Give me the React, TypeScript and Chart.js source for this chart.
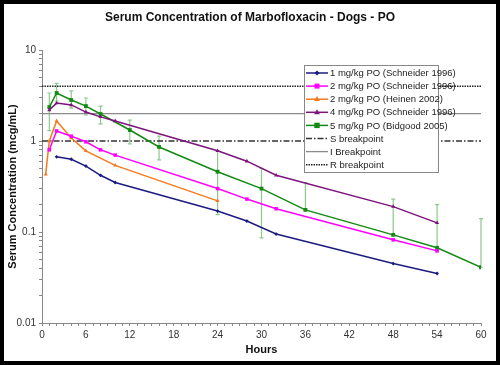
import { useEffect, useRef } from 'react';
import { Chart, registerables } from 'chart.js';
Chart.register(...registerables);

const chartTitle = 'Serum Concentration of Marbofloxacin - Dogs - PO';
const xTitle = 'Hours';
const yTitle = 'Serum Concentration (mcg/mL)';
const yMajorTicks = [0.01, 0.1, 1, 10];

const s1Label = '1 mg/kg PO (Schneider 1996)';
const s1Hours = [2, 4, 6, 8, 10, 24, 28, 32, 48, 54];
const s1Values = [0.67, 0.63, 0.53, 0.42, 0.35, 0.17, 0.132, 0.095, 0.045, 0.035];

const s2Label = '2 mg/kg PO (Schneider 1996)';
const s2Hours = [1, 2, 4, 6, 8, 10, 24, 28, 32, 48, 54];
const s2Values = [0.8, 1.29, 1.13, 0.98, 0.8, 0.7, 0.3, 0.23, 0.18, 0.082, 0.062];

const s3Label = '2 mg/kg PO (Heinen 2002)';
const s3Hours = [0.5, 1, 2, 4, 6, 10, 24];
const s3Values = [0.43, 1.0, 1.66, 1.08, 0.78, 0.54, 0.22];

const s4Label = '4 mg/kg PO (Schneider 1996)';
const s4Hours = [1, 2, 4, 6, 8, 10, 24, 28, 32, 48, 54];
const s4Values = [2.19, 2.61, 2.49, 2.08, 1.84, 1.66, 0.78, 0.6, 0.42, 0.19, 0.126];

const s5Label = '5 mg/kg PO (Bidgood 2005)';
const s5Hours = [1, 2, 4, 6, 8, 12, 16, 24, 30, 36, 48, 54, 60];
const s5Values = [2.36, 3.37, 2.82, 2.42, 1.98, 1.32, 0.86, 0.46, 0.3, 0.175, 0.093, 0.067, 0.041];
const s5Upper = [3.37, 4.3, 3.55, 2.97, 2.42, 1.7, 1.13, 0.78, 0.5, 0.35, 0.23, 0.2, 0.14];
const s5Lower = [1.3, 2.75, 2.3, 1.93, 1.54, 0.93, 0.62, 0.155, 0.086, 0.175, 0.093, 0.067, 0.041];

const bpLabels = ['S breakpoint', 'I Breakpoint', 'R breakpoint'];
const bpValues = [1, 2, 4];
const xRange = [0, 60];

const FONT = '"Liberation Sans", Arial, sans-serif';

function pts(h: number[], v: number[]) {
  return h.map((x, i) => ({ x, y: v[i] }));
}

function drawMarker(ctx: CanvasRenderingContext2D, style: string, x: number, y: number, r: number, color: string) {
  ctx.save();
  ctx.fillStyle = color;
  ctx.strokeStyle = color;
  ctx.beginPath();
  if (style === 'rect') {
    ctx.rect(x - r, y - r, 2 * r, 2 * r);
  } else if (style === 'rectRot') {
    ctx.moveTo(x, y - r * 1.3);
    ctx.lineTo(x + r * 1.3, y);
    ctx.lineTo(x, y + r * 1.3);
    ctx.lineTo(x - r * 1.3, y);
    ctx.closePath();
  } else if (style === 'triangle') {
    ctx.moveTo(x, y - r * 1.3);
    ctx.lineTo(x + r * 1.2, y + r * 0.8);
    ctx.lineTo(x - r * 1.2, y + r * 0.8);
    ctx.closePath();
  }
  ctx.fill();
  ctx.restore();
}

const errorBarPlugin = {
  id: 'errorBars',
  beforeDatasetsDraw(chart: any) {
    const ctx = chart.ctx;
    const xs = chart.scales.x;
    const ys = chart.scales.y;
    ctx.save();
    ctx.strokeStyle = '#8cc98c';
    ctx.lineWidth = 1.2;
    s5Hours.forEach((h, i) => {
      const px = xs.getPixelForValue(h);
      const top = ys.getPixelForValue(s5Upper[i]);
      const bot = ys.getPixelForValue(s5Lower[i]);
      ctx.beginPath();
      ctx.moveTo(px, top);
      ctx.lineTo(px, bot);
      ctx.moveTo(px - 2, top);
      ctx.lineTo(px + 2, top);
      ctx.moveTo(px - 2, bot);
      ctx.lineTo(px + 2, bot);
      ctx.stroke();
    });
    ctx.restore();
  },
};

const textLegendPlugin = {
  id: 'textLegend',
  afterDraw(chart: any) {
    const ctx: CanvasRenderingContext2D = chart.ctx;
    const area = chart.chartArea;
    ctx.save();
    // title
    ctx.fillStyle = '#111';
    ctx.font = `bold 12px ${FONT}`;
    ctx.textAlign = 'center';
    ctx.textBaseline = 'middle';
    ctx.fillText(chartTitle, 246, 14);
    // x title
    ctx.font = `bold 11px ${FONT}`;
    ctx.fillText(xTitle, (area.left + area.right) / 2, 346);
    // y title
    ctx.save();
    ctx.translate(9, (area.top + area.bottom) / 2);
    ctx.rotate(-Math.PI / 2);
    ctx.fillText(yTitle, 0, 0);
    ctx.restore();

    // legend box
    const bx = 300, by = 61, bw = 134, bh = 107;
    ctx.fillStyle = '#fff';
    ctx.fillRect(bx, by, bw, bh);
    ctx.strokeStyle = '#888';
    ctx.lineWidth = 1;
    ctx.strokeRect(bx + 0.5, by + 0.5, bw, bh);
    ctx.font = `9.5px ${FONT}`;
    ctx.textAlign = 'left';
    ctx.textBaseline = 'middle';
    chart.data.datasets.forEach((ds: any, i: number) => {
      const y = by + 8 + i * 13.1;
      ctx.save();
      ctx.strokeStyle = ds.borderColor;
      ctx.lineWidth = ds.borderWidth;
      ctx.setLineDash(ds.borderDash || []);
      ctx.beginPath();
      ctx.moveTo(bx + 2, y);
      ctx.lineTo(bx + 24, y);
      ctx.stroke();
      ctx.restore();
      if (ds.pointRadius > 0) {
        drawMarker(ctx, ds.pointStyle, bx + 13, y, ds.pointRadius, ds.pointBackgroundColor);
      }
      ctx.fillStyle = '#222';
      ctx.fillText(ds.label, bx + 26, y + 0.5);
    });
    ctx.restore();
  },
};

export default function App() {
  const ref = useRef<HTMLCanvasElement>(null);
  useEffect(() => {
    if (!ref.current) return;
    const mk = (label: string, h: number[], v: number[], color: string, style: string, r: number) => ({
      label,
      data: pts(h, v),
      borderColor: color,
      backgroundColor: color,
      pointBackgroundColor: color,
      pointBorderColor: color,
      pointBorderWidth: 0,
      borderWidth: 1.5,
      pointStyle: style,
      pointRadius: r,
      tension: 0,
    });
    const bpStyles = [
      { color: '#333', dash: [6, 2, 1.5, 2], width: 1.3 },
      { color: '#8a8a8a', dash: [], width: 1.3 },
      { color: '#222', dash: [1.5, 1], width: 1.5 },
    ];
    const bpSets = bpLabels.map((label, i) => ({
      label,
      data: [
        { x: xRange[0], y: bpValues[i] },
        { x: xRange[1], y: bpValues[i] },
      ],
      borderColor: bpStyles[i].color,
      backgroundColor: bpStyles[i].color,
      borderWidth: bpStyles[i].width,
      borderDash: bpStyles[i].dash,
      pointRadius: 0,
      pointBackgroundColor: bpStyles[i].color,
    }));
    const chart = new Chart(ref.current, {
      type: 'line',
      data: {
        datasets: [
          mk(s1Label, s1Hours, s1Values, '#1c1c80', 'rectRot', 1.9),
          mk(s2Label, s2Hours, s2Values, '#ff00ff', 'rect', 2.5),
          mk(s3Label, s3Hours, s3Values, '#f57a1e', 'triangle', 2.4),
          mk(s4Label, s4Hours, s4Values, '#7d137d', 'triangle', 2.4),
          mk(s5Label, s5Hours, s5Values, '#138a13', 'rect', 2.7),
          ...bpSets,
        ] as any,
      },
      options: {
        animation: false,
        responsive: false,
        devicePixelRatio: 1,
        layout: { padding: { left: 0, top: 46, right: 15, bottom: 0 } },
        plugins: { legend: { display: false }, title: { display: false }, tooltip: { enabled: false } },
        scales: {
          x: {
            type: 'linear',
            min: xRange[0],
            max: xRange[1],
            afterFit: (s: any) => { s.height = 38; },
            grid: { drawOnChartArea: false, color: '#888', tickLength: 3 },
            border: { color: '#888', width: 1 },
            ticks: {
              stepSize: 1,
              autoSkip: false,
              maxRotation: 0,
              padding: 3,
              color: '#333',
              font: { family: FONT, size: 10 },
              callback: (v: any) => (Number(v) % 6 === 0 ? String(v) : ''),
            },
          },
          y: {
            type: 'logarithmic',
            min: 0.01,
            max: 10,
            afterFit: (s: any) => { s.width = 38; },
            grid: { drawOnChartArea: false, color: '#888', tickLength: 3 },
            border: { color: '#888', width: 1 },
            ticks: {
              autoSkip: false,
              padding: 3,
              color: '#333',
              font: { family: FONT, size: 10 },
              callback: (v: any) => {
                const n = Number(v);
                const m = yMajorTicks.find((t) => Math.abs(t - n) / t < 1e-6);
                return m !== undefined ? String(m) : '';
              },
            },
          },
        },
      },
      plugins: [errorBarPlugin, textLegendPlugin],
    });
    return () => chart.destroy();
  }, []);
  return (
    <div
      style={{
        position: 'absolute',
        left: 0,
        top: 0,
        width: 500,
        height: 365,
        boxSizing: 'border-box',
        border: '4px solid #000',
        background: '#fff',
      }}
    >
      <canvas ref={ref} width={492} height={357} style={{ display: 'block' }} />
    </div>
  );
}
